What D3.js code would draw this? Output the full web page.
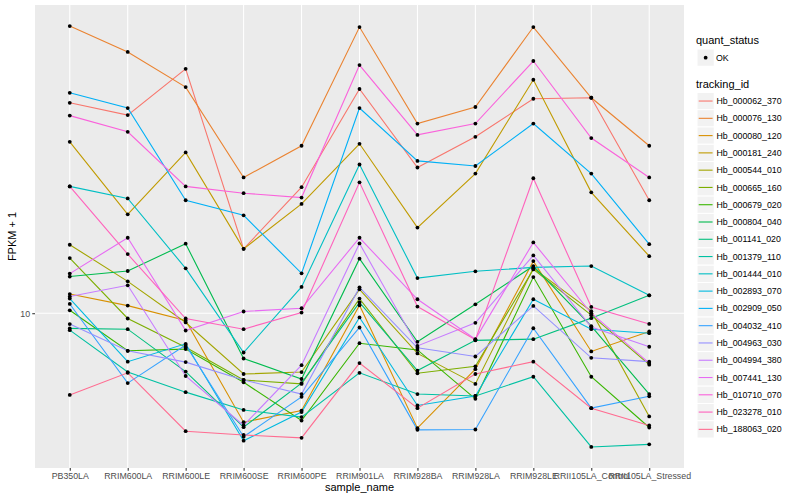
<html>
<head>
<meta charset="utf-8">
<title>FPKM by sample</title>
<script src="https://d3js.org/d3.v7.min.js"></script>
<style>
body { margin: 0; background: #fff; }
text { font-family: "Liberation Sans", Arial, Helvetica, sans-serif; }
</style>
</head>
<body>
<script>
// sample names on the x axis
var samples = ["PB350LA", "RRIM600LA", "RRIM600LE", "RRIM600SE", "RRIM600PE", "RRIM901LA",
  "RRIM928BA", "RRIM928LA", "RRIM928LE", "RRII105LA_Control", "RRII105LA_Stressed"];

var trackingIds = ["Hb_000062_370", "Hb_000076_130", "Hb_000080_120", "Hb_000181_240", "Hb_000544_010",
  "Hb_000665_160", "Hb_000679_020", "Hb_000804_040", "Hb_001141_020", "Hb_001379_110", "Hb_001444_010",
  "Hb_002893_070", "Hb_002909_050", "Hb_004032_410", "Hb_004963_030", "Hb_004994_380", "Hb_007441_130",
  "Hb_010710_070", "Hb_023278_010", "Hb_188063_020"];

var quantStatus = ["OK"];
var yTicks = [10];

// FPKM + 1, one array per tracking id, in sample order
var hb000062_370 = [33.7, 31.4, 41.0, 14.5, 20.7, 36.5, 23.2, 27.7, 34.5, 34.7, 19.2];
var hb000076_130 = [52.5, 45.2, 36.9, 21.9, 26.3, 52.2, 29.9, 32.9, 52.2, 34.7, 26.3];
var hb000080_120 = [11.17, 10.45, 9.59, 5.33, 5.70, 10.47, 5.15, 7.24, 13.51, 8.02, 9.00];
var hb000181_240 = [26.9, 17.7, 25.3, 14.5, 18.8, 26.6, 16.4, 22.4, 38.5, 20.1, 13.9];
var hb000544_010 = [14.85, 12.02, 9.48, 7.04, 7.12, 11.48, 7.93, 6.65, 12.96, 10.12, 5.51];
var hb000665_160 = [13.75, 9.70, 8.22, 6.80, 6.65, 10.88, 7.07, 7.36, 12.88, 9.89, 7.43];
var hb000679_020 = [10.17, 8.05, 8.13, 6.71, 5.38, 8.41, 8.09, 6.10, 12.32, 6.93, 5.17];
var hb000804_040 = [12.36, 12.76, 14.94, 7.70, 6.84, 13.70, 8.48, 10.53, 13.13, 9.28, 6.27];
var hb001141_020 = [9.16, 9.12, 7.14, 5.18, 6.68, 10.64, 7.18, 8.55, 8.61, 9.72, 11.09];
var hb001379_110 = [9.07, 7.12, 6.34, 5.72, 5.49, 7.09, 6.27, 6.20, 6.93, 4.62, 4.69];
var hb001444_010 = [20.8, 19.4, 12.96, 7.97, 11.64, 23.6, 12.25, 12.74, 13.03, 13.13, 11.09];
var hb002893_070 = [10.88, 7.56, 8.38, 4.79, 5.65, 9.76, 5.87, 6.20, 10.84, 9.12, 8.91];
var hb002909_050 = [35.7, 32.7, 19.2, 17.6, 12.59, 32.7, 24.1, 23.4, 29.9, 22.4, 14.9];
var hb004032_410 = [10.55, 6.68, 8.32, 4.90, 6.17, 9.21, 5.10, 5.11, 9.17, 5.78, 6.19];
var hb004963_030 = [9.39, 8.05, 7.54, 6.80, 6.27, 11.61, 8.19, 7.79, 10.43, 7.73, 7.56];
var hb004994_380 = [11.01, 11.75, 6.96, 5.23, 7.41, 14.96, 8.28, 9.46, 13.96, 9.23, 8.24];
var hb007441_130 = [12.57, 15.46, 9.05, 10.10, 10.29, 15.46, 10.84, 8.61, 15.05, 10.0, 7.50];
var hb010710_070 = [31.3, 28.5, 20.8, 20.0, 19.5, 41.9, 28.0, 29.9, 42.9, 27.5, 21.9];
var hb023278_010 = [20.8, 14.07, 9.70, 9.12, 10.04, 21.3, 10.39, 8.58, 21.8, 10.37, 9.40];
var hb188063_020 = [6.24, 7.09, 5.06, 4.95, 4.87, 7.50, 5.78, 7.04, 7.56, 5.78, 5.23];

var seriesValues = [hb000062_370, hb000076_130, hb000080_120, hb000181_240, hb000544_010,
  hb000665_160, hb000679_020, hb000804_040, hb001141_020, hb001379_110, hb001444_010,
  hb002893_070, hb002909_050, hb004032_410, hb004963_030, hb004994_380, hb007441_130,
  hb010710_070, hb023278_010, hb188063_020];

// ggplot hue palette for 20 groups
var palette = ["#F8766D", "#EA8331", "#D89000", "#C09B00", "#A3A500", "#7CAE00", "#39B600",
  "#00BB4E", "#00BF7D", "#00C1A3", "#00BFC4", "#00BAE0", "#00B0F6", "#35A2FF", "#9590FF",
  "#C77CFF", "#E76BF3", "#FA62DB", "#FF62BC", "#FF6C91"];

var series = trackingIds.map(function (id, i) {
  return {
    id: id,
    color: palette[i],
    points: samples.map(function (s, j) { return { sample: s, value: seriesValues[i][j] }; })
  };
});

var W = 800, H = 500;
var panel = { left: 35, right: 684, top: 5, bottom: 468 };

var svg = d3.select("body").append("svg").attr("width", W).attr("height", H);

var x = d3.scalePoint().domain(samples).range([panel.left, panel.right]).padding(0.6);

// log scale, limits expanded 5% each side like ggplot
var all = d3.merge(seriesValues);
var lo = Math.log10(d3.min(all)), hi = Math.log10(d3.max(all));
var pad = (hi - lo) * 0.05;
var y = d3.scaleLog().domain([Math.pow(10, lo - pad), Math.pow(10, hi + pad)])
  .range([panel.bottom, panel.top]);

svg.append("rect")
  .attr("x", panel.left).attr("y", panel.top)
  .attr("width", panel.right - panel.left).attr("height", panel.bottom - panel.top)
  .attr("fill", "#EBEBEB");

var grid = svg.append("g");
grid.selectAll("line.v").data(samples).enter().append("line")
  .attr("x1", function (d) { return x(d); }).attr("x2", function (d) { return x(d); })
  .attr("y1", panel.top).attr("y2", panel.bottom)
  .attr("stroke", "#fff").attr("stroke-width", 1.07);
grid.selectAll("line.h").data(yTicks).enter().append("line")
  .attr("x1", panel.left).attr("x2", panel.right)
  .attr("y1", function (d) { return y(d); }).attr("y2", function (d) { return y(d); })
  .attr("stroke", "#fff").attr("stroke-width", 1.07);

var line = d3.line()
  .x(function (d) { return x(d.sample); })
  .y(function (d) { return y(d.value); });

svg.append("g").selectAll("path").data(series).enter().append("path")
  .attr("d", function (d) { return line(d.points); })
  .attr("fill", "none")
  .attr("stroke", function (d) { return d.color; })
  .attr("stroke-width", 1.1);

svg.append("g").selectAll("g").data(series).enter().append("g")
  .selectAll("circle").data(function (d) { return d.points; }).enter().append("circle")
  .attr("cx", function (d) { return x(d.sample); })
  .attr("cy", function (d) { return y(d.value); })
  .attr("r", 1.9)
  .attr("fill", "#000");

// axes
var yAxis = d3.axisLeft(y).tickValues(yTicks).tickFormat(d3.format("d")).tickSize(2.74).tickPadding(2.2);
var gy = svg.append("g").attr("transform", "translate(" + panel.left + ",0)").call(yAxis);

var xAxis = d3.axisBottom(x).tickSize(2.74).tickPadding(2.2);
var gx = svg.append("g").attr("transform", "translate(0," + panel.bottom + ")").call(xAxis);

[gx, gy].forEach(function (g) {
  g.select(".domain").remove();
  g.selectAll(".tick line").attr("stroke", "#333").attr("stroke-width", 1.07);
  g.selectAll(".tick text").attr("fill", "#4D4D4D").style("font-size", "8.8px")
    .style("font-family", "'Liberation Sans', Arial, sans-serif");
});

svg.append("text")
  .attr("x", (panel.left + panel.right) / 2).attr("y", 491)
  .attr("text-anchor", "middle").style("font-size", "11px").text("sample_name");

svg.append("text")
  .attr("transform", "translate(16," + ((panel.top + panel.bottom) / 2) + ") rotate(-90)")
  .attr("text-anchor", "middle").style("font-size", "11px").text("FPKM + 1");

// legend
var lg = svg.append("g");
var keyX = 697, keySize = 17.28;

lg.append("text").attr("x", 696).attr("y", 44).style("font-size", "11px").text("quant_status");
lg.selectAll("rect.q").data(quantStatus).enter().append("rect")
  .attr("x", keyX).attr("y", 49).attr("width", keySize).attr("height", keySize)
  .attr("fill", "#F2F2F2").attr("stroke", "#fff");
lg.selectAll("circle.q").data(quantStatus).enter().append("circle")
  .attr("cx", keyX + keySize / 2).attr("cy", 49 + keySize / 2).attr("r", 1.9).attr("fill", "#000");
lg.selectAll("text.q").data(quantStatus).enter().append("text")
  .attr("x", 716).attr("y", 49 + keySize / 2 + 3.1).style("font-size", "8.8px").text(function (d) { return d; });

lg.append("text").attr("x", 696).attr("y", 88).style("font-size", "11px").text("tracking_id");

var keyTop = 92.4;
var keys = lg.selectAll("g.key").data(series).enter().append("g")
  .attr("transform", function (d, i) { return "translate(" + keyX + "," + (keyTop + i * keySize) + ")"; });
keys.append("rect").attr("width", keySize).attr("height", keySize)
  .attr("fill", "#F2F2F2").attr("stroke", "#fff");
keys.append("line")
  .attr("x1", 1.7).attr("x2", keySize - 1.7)
  .attr("y1", keySize / 2).attr("y2", keySize / 2)
  .attr("stroke", function (d) { return d.color; }).attr("stroke-width", 1.1);
keys.append("text").attr("x", 19.5).attr("y", keySize / 2 + 3.1)
  .style("font-size", "8.8px").text(function (d) { return d.id; });
</script>
</body>
</html>
